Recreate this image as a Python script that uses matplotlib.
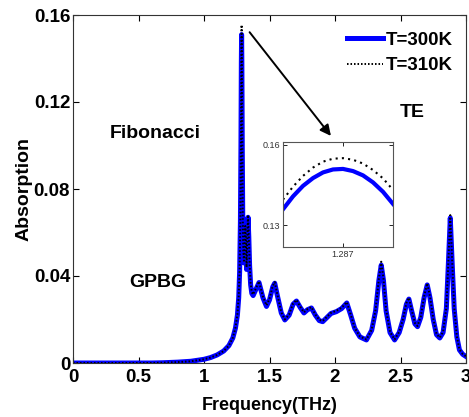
import numpy as np
import matplotlib
matplotlib.use("Agg")
import matplotlib.pyplot as plt

plt.rcParams['font.family'] = ['Liberation Sans', 'DejaVu Sans']
plt.rcParams['font.weight'] = 'bold'

# main spectrum
freq = [0.0, 0.3, 0.6, 0.68, 0.8, 0.9, 1.0, 1.05, 1.1, 1.15, 1.19, 1.22, 1.24,
        1.255, 1.265, 1.272, 1.278, 1.282, 1.285, 1.287, 1.289, 1.292, 1.296,
        1.300, 1.305, 1.310, 1.315, 1.320, 1.325, 1.330, 1.336, 1.342, 1.348,
        1.356, 1.365, 1.375, 1.39, 1.42, 1.45, 1.477, 1.50, 1.525, 1.54, 1.56,
        1.59, 1.617, 1.65, 1.68, 1.706, 1.735, 1.763, 1.79, 1.82, 1.85, 1.88,
        1.906, 1.94, 1.97, 2.01, 2.05, 2.09, 2.12, 2.15, 2.19, 2.24, 2.28, 2.31,
        2.335, 2.353, 2.37, 2.39, 2.42, 2.455, 2.49, 2.52, 2.545, 2.564, 2.585,
        2.61, 2.63, 2.655, 2.68, 2.704, 2.725, 2.75, 2.775, 2.80, 2.825, 2.85,
        2.865, 2.88, 2.895, 2.91, 2.93, 2.95, 2.975, 3.0]
abs_300 = [0.0, 0.0, 0.0, 0.0001, 0.0004, 0.0008, 0.0017, 0.0025, 0.0037, 0.0055,
           0.008, 0.0115, 0.016, 0.022, 0.030, 0.042, 0.065, 0.100, 0.138, 0.151,
           0.138, 0.100, 0.065, 0.050, 0.046, 0.052, 0.062, 0.055, 0.043, 0.055,
           0.067, 0.058, 0.045, 0.036, 0.032, 0.031, 0.033, 0.037, 0.030, 0.026,
           0.029, 0.035, 0.0367, 0.031, 0.023, 0.0198, 0.022, 0.027, 0.0285,
           0.0255, 0.023, 0.0245, 0.0253, 0.022, 0.0195, 0.019, 0.021, 0.0228,
           0.0236, 0.025, 0.0276, 0.022, 0.016, 0.012, 0.0106, 0.015, 0.024,
           0.038, 0.045, 0.038, 0.024, 0.014, 0.0106, 0.014, 0.020, 0.027,
           0.0294, 0.024, 0.018, 0.0167, 0.021, 0.030, 0.0359, 0.030, 0.020,
           0.013, 0.0115, 0.014, 0.025, 0.045, 0.0667, 0.045, 0.025, 0.012,
           0.006, 0.004, 0.003]
abs_310 = [0.0, 0.0, 0.0, 0.0001, 0.0004, 0.0008, 0.0017, 0.0025, 0.0037, 0.0055,
           0.008, 0.0116, 0.0162, 0.0223, 0.0305, 0.043, 0.067, 0.103, 0.142, 0.1554,
           0.142, 0.103, 0.067, 0.051, 0.047, 0.053, 0.063, 0.056, 0.044, 0.056,
           0.068, 0.059, 0.046, 0.0365, 0.0325, 0.0315, 0.0335, 0.0375, 0.0305, 0.0265,
           0.0295, 0.0355, 0.0372, 0.0315, 0.0233, 0.020, 0.0223, 0.0274, 0.029,
           0.0259, 0.0233, 0.0248, 0.0257, 0.0223, 0.0198, 0.0193, 0.0213, 0.0231,
           0.024, 0.0254, 0.028, 0.0223, 0.0162, 0.0122, 0.0108, 0.0153, 0.0245,
           0.0388, 0.0466, 0.0388, 0.0245, 0.0143, 0.0108, 0.0143, 0.0204, 0.0276,
           0.0300, 0.0245, 0.0184, 0.017, 0.0214, 0.0306, 0.0366, 0.0306, 0.0204,
           0.0133, 0.0117, 0.0143, 0.0255, 0.046, 0.068, 0.046, 0.0255, 0.0123,
           0.0062, 0.0041, 0.0031]

# zoomed view around the main peak
freq_in = [1.2864, 1.2865, 1.2866, 1.2867, 1.2868, 1.2869, 1.2870, 1.2871,
           1.2872, 1.2873, 1.2874, 1.2875]
abs_in_300 = [0.1360, 0.1408, 0.1447, 0.1476, 0.1497, 0.1508, 0.1510, 0.1502,
              0.1486, 0.1460, 0.1425, 0.1380]
abs_in_310 = [0.1396, 0.1444, 0.1484, 0.1515, 0.1537, 0.1548, 0.1550, 0.1544,
              0.1530, 0.1506, 0.1475, 0.1432]

fig = plt.figure(figsize=(4.69, 4.17), dpi=100)
ax = fig.add_axes([73/469, 1-363/417, 393/469, 348/417])

ax.plot(freq, abs_300, color='#0000ff', lw=3.6, label='T=300K')
ax.plot(freq, abs_310, color='black', lw=1.4, ls=(0, (0.8, 1.0)), label='T=310K')

ax.set_xlim(0, 3)
ax.set_ylim(0, 0.16)
ax.set_xticks([0, 0.5, 1, 1.5, 2, 2.5, 3])
ax.set_xticklabels(['0', '0.5', '1', '1.5', '2', '2.5', '3'])
ax.set_yticks([0, 0.04, 0.08, 0.12, 0.16])
ax.set_yticklabels(['0', '0.04', '0.08', '0.12', '0.16'])
ax.tick_params(direction='in', top=True, right=True, length=4, width=0.8,
               labelsize=13.5, pad=2)
ax.tick_params(axis='x', pad=4)
for s in ax.spines.values():
    s.set_linewidth(0.8)
    s.set_color('#333333')
ax.set_xlabel('Frequency(THz)', fontsize=13, fontweight='bold', labelpad=8)
ax.set_ylabel('Absorption', fontsize=14, fontweight='bold', labelpad=1)

ax.text(0.627, 0.1057, 'Fibonacci', fontsize=14, fontweight='bold', ha='center', va='center')
ax.text(0.65, 0.037, 'GPBG', fontsize=14, fontweight='bold', ha='center', va='center')
ax.text(2.59, 0.1154, 'TE', fontsize=14, fontweight='bold', ha='center', va='center')

leg = ax.legend(loc='upper right', bbox_to_anchor=(1.0, 0.99), frameon=False,
                fontsize=13.5, handlelength=1.9, handletextpad=0.15,
                labelspacing=0.45, borderaxespad=0.3)
for t in leg.get_texts():
    t.set_fontweight('bold')

ax.annotate('', xy=(1.982, 0.1034), xytext=(1.335, 0.1531),
            arrowprops=dict(arrowstyle='-|>', color='black', lw=1.4,
                            mutation_scale=16))

ins = fig.add_axes([283/469, 1-247/417, 110/469, 105/417])
ins.plot(freq_in, abs_in_300, color='#0000ff', lw=3)
ins.plot(freq_in, abs_in_310, color='black', lw=1.5, ls=(0, (1, 2)))
ins.set_xlim(1.2864, 1.2875)
ins.set_ylim(0.122, 0.161)
ins.set_xticks([1.287])
ins.set_xticklabels(['1.287'])
ins.set_yticks([0.13, 0.16])
ins.set_yticklabels(['0.13', '0.16'])
ins.tick_params(direction='in', top=True, right=True, length=3, width=0.6,
                labelsize=6.5, labelcolor='#333333', pad=2)
for t in ins.get_xticklabels() + ins.get_yticklabels():
    t.set_fontweight('normal')
for s in ins.spines.values():
    s.set_linewidth(0.8)
    s.set_color('#555555')

fig.savefig('out.png', dpi=100)
